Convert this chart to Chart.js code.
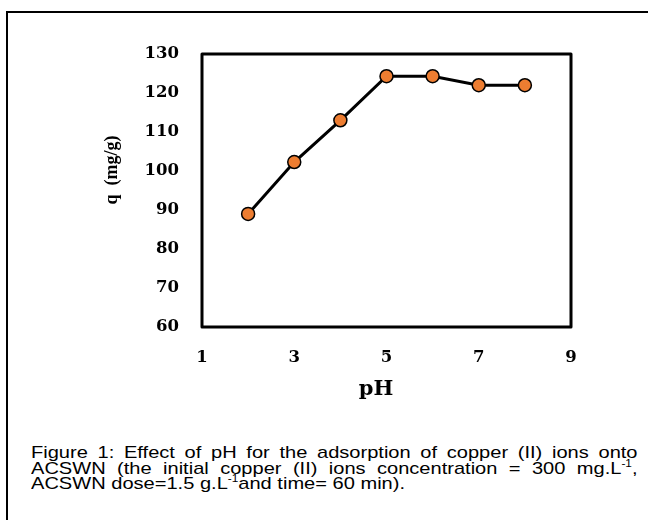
<!DOCTYPE html>
<html>
<head>
<meta charset="utf-8">
<script src="https://cdn.jsdelivr.net/npm/chart.js@4.4.0/dist/chart.umd.min.js"></script>
<style>
  html, body { margin: 0; padding: 0; background: #fff; }
  body { width: 648px; height: 520px; position: relative; overflow: hidden; }
  .frame { position: absolute; left: 6px; top: 11px; width: 700px; height: 600px;
           border-left: 2px solid #000; border-top: 2px solid #000; }
  .chartbox { position: absolute; left: 0; top: 0; width: 648px; height: 410px; }
  .caption { position: absolute; left: 31px; top: 445px; width: 514px;
             transform: scaleX(1.18); transform-origin: 0 0;
             font-family: "Liberation Sans", Arial, sans-serif; font-size: 17px;
             line-height: 15.5px; color: #000; white-space: nowrap; }
  .caption div { text-align: justify; text-align-last: justify; }
  .caption div.last { text-align-last: left; }
  sup { font-size: 10px; line-height: 0; vertical-align: 7px; }
</style>
</head>
<body>
<div class="frame"></div>
<div class="chartbox"><canvas id="chart"></canvas></div>
<div class="caption">
  <div>Figure 1: Effect of pH for the adsorption of copper (II) ions onto</div>
  <div>ACSWN (the initial copper (II) ions concentration = 300 mg.L<sup>-1</sup>,</div>
  <div class="last">ACSWN dose=1.5 g.L<sup>-1</sup>and time= 60 min).</div>
</div>
<script>
// values
const phValues = [2, 3, 4, 5, 6, 7, 8];
const qValues = [89, 102.3, 113, 124.3, 124.3, 122, 122];
const xTicks = [1, 3, 5, 7, 9];
const yTicks = [60, 70, 80, 90, 100, 110, 120, 130];
const xTitle = 'pH';
const yTitle = 'q  (mg/g)';

const tickFont = { family: '"DejaVu Serif", serif', size: 16.5, weight: 'bold' };

// frame round the plot area, plus both axis titles (placed like the original)
const boxPlugin = {
  id: 'boxPlugin',
  afterDraw(chart) {
    const { ctx, chartArea } = chart;
    ctx.save();
    ctx.strokeStyle = '#000';
    ctx.lineWidth = 3;
    ctx.lineJoin = 'round';
    ctx.strokeRect(chartArea.left, chartArea.top, chartArea.right - chartArea.left, chartArea.bottom - chartArea.top);
    ctx.fillStyle = '#000';
    ctx.textAlign = 'center';

    ctx.font = 'bold 21px "DejaVu Serif", serif';
    ctx.textBaseline = 'alphabetic';
    ctx.fillText(xTitle, 376, 395);

    ctx.translate(112, 170);
    ctx.rotate(-Math.PI / 2);
    ctx.font = 'bold 18px "Liberation Serif", serif';
    ctx.textBaseline = 'middle';
    ctx.fillText(yTitle, 0, 0);
    ctx.restore();
  }
};

const ctx = document.getElementById('chart').getContext('2d');
new Chart(ctx, {
  type: 'scatter',
  data: {
    datasets: [{
      data: phValues.map((x, i) => ({ x: x, y: qValues[i] })),
      showLine: true,
      borderColor: '#000',
      borderWidth: 3,
      pointBackgroundColor: '#ED7D31',
      pointBorderColor: '#000',
      pointBorderWidth: 1.5,
      pointRadius: 6.5,
      pointHoverRadius: 6.5
    }]
  },
  options: {
    responsive: true,
    maintainAspectRatio: false,
    animation: false,
    clip: false,
    layout: { padding: { left: 0, top: 54, right: 77, bottom: 0 } },
    plugins: {
      legend: { display: false },
      tooltip: { enabled: false }
    },
    scales: {
      x: {
        type: 'linear',
        min: 1,
        max: 9,
        afterBuildTicks: (scale) => { scale.ticks = xTicks.map(v => ({ value: v })); },
        afterFit: (scale) => { scale.height = 83; },
        grid: { display: false, drawTicks: false },
        border: { display: false },
        ticks: { padding: 21, color: '#000', font: tickFont }
      },
      y: {
        min: 60,
        max: 130,
        afterBuildTicks: (scale) => { scale.ticks = yTicks.map(v => ({ value: v })); },
        afterFit: (scale) => { scale.width = 202; },
        grid: { display: false, drawTicks: false },
        border: { display: false },
        ticks: { padding: 23, color: '#000', font: tickFont }
      }
    }
  },
  plugins: [boxPlugin]
});
</script>
</body>
</html>
